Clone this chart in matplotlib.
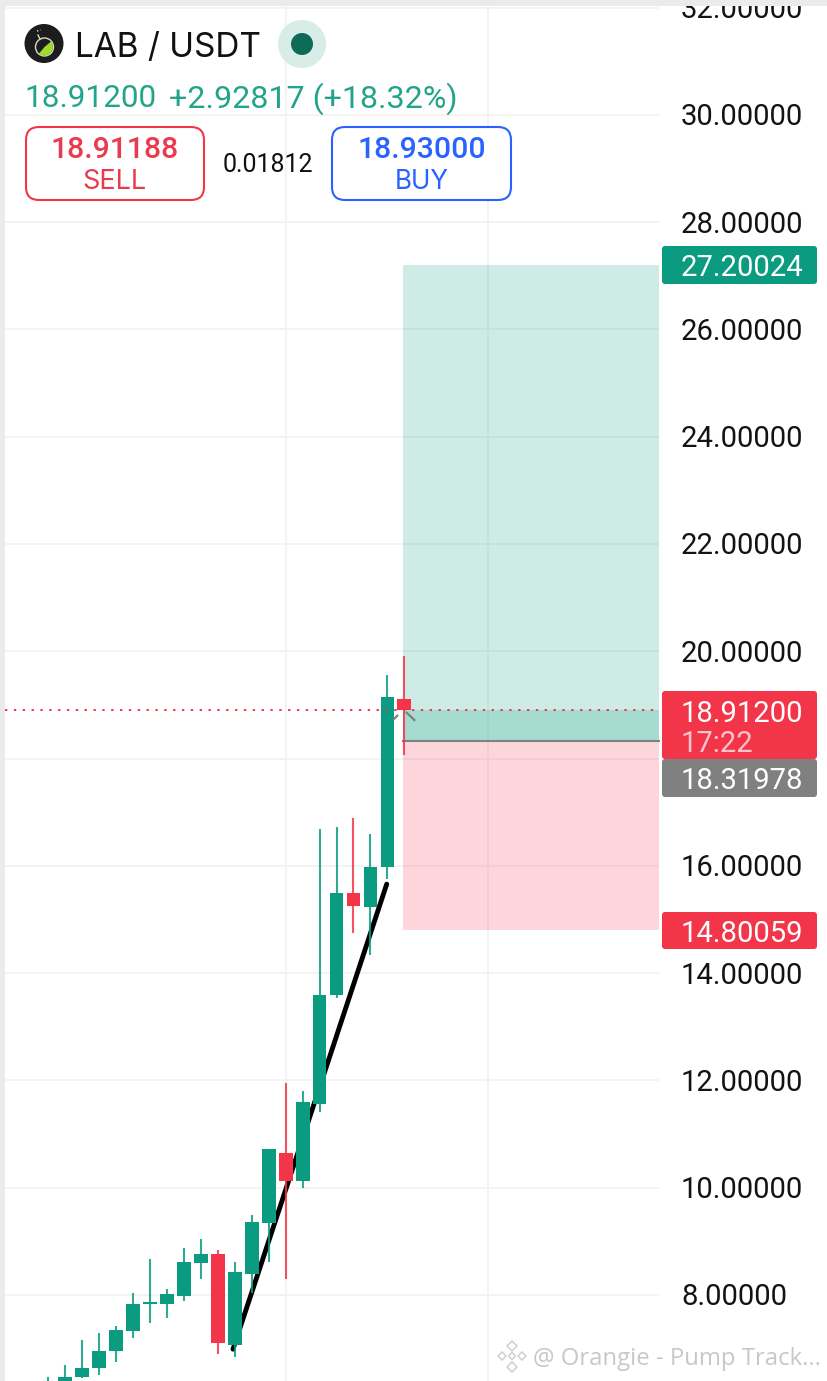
import matplotlib
matplotlib.use('Agg')
import matplotlib.pyplot as plt
from matplotlib.patches import Circle, FancyBboxPatch, Rectangle, Polygon, Wedge

plt.rcParams['font.family'] = ['Roboto', 'DejaVu Sans']

W, H = 828, 1381
GREEN = '#0a9b80'
RED = '#f33549'
GRID = '#f3f3f3'

# candles, oldest first
opens = [6.20, 6.20, 6.48, 6.63, 6.95, 7.33, 7.83, 7.83, 7.98, 8.59, 8.77, 7.07, 8.40, 9.35,
         10.65, 10.13, 11.56, 13.59, 15.49, 15.24, 15.98, 19.12]
closes = [6.35, 6.48, 6.64, 6.96, 7.35, 7.83, 7.87, 8.02, 8.62, 8.77, 7.11, 8.42, 9.37, 10.72,
          10.13, 11.59, 13.59, 15.49, 15.25, 15.98, 19.15, 18.91]
highs = [6.47, 6.70, 7.16, 7.30, 7.42, 8.03, 8.67, 8.11, 8.87, 9.04, 8.84, 8.61, 9.50, 10.73,
         11.96, 11.81, 16.68, 16.72, 16.89, 16.59, 19.55, 19.91]
lows = [6.10, 6.10, 6.45, 6.51, 6.75, 7.20, 7.47, 7.58, 7.89, 8.30, 6.90, 6.85, 8.03, 8.62,
        8.29, 9.99, 11.41, 13.54, 14.74, 14.33, 15.75, 18.07]

# 18.00000 is hidden behind the price tags in the screenshot
grid_prices = [32, 30, 28, 26, 24, 22, 20, 18, 16, 14, 12, 10, 8]
axis_prices = [32, 30, 28, 26, 24, 22, 20, 16, 14, 12, 10, 8]
axis_labels = ['32.00000', '30.00000', '28.00000', '26.00000', '24.00000', '22.00000', '20.00000',
               '16.00000', '14.00000', '12.00000', '10.00000', '8.00000']

last_price = 18.912
take_profit = 27.20024
entry_price = 18.31978
stop_loss = 14.80059
trend_x = [10.89, 19.96]
trend_y = [6.99, 15.66]
grid_bars = [14.02, 25.94]


def price_y(price):
    return 1295 - (price - 8) * 53.64


def rounded(ax, x, y, w, h, r, face, edge='none', lw=0, z=5):
    ax.add_patch(FancyBboxPatch((x + r, y + r), w - 2 * r, h - 2 * r, boxstyle=f'round,pad={r},rounding_size={r}',
                                facecolor=face, edgecolor=edge, linewidth=lw, zorder=z))


fig = plt.figure(figsize=(W / 100, H / 100), dpi=100)

# price axes for the plot area
ax = fig.add_axes([0, 0, 1, 1])
ax.set_xlim(-48.4 / 16.95, (W - 48.4) / 16.95)
ax.set_ylim(8 - (H - 1295) / 53.64, 8 + 1295 / 53.64)
ax.axis('off')

# pixel axes for the chrome around it
ui = fig.add_axes([0, 0, 1, 1], zorder=3)
ui.set_xlim(0, W)
ui.set_ylim(H, 0)
ui.axis('off')
ui.patch.set_alpha(0)

x_left = (5 - 48.4) / 16.95
x_right = (659.5 - 48.4) / 16.95
x_box = (403 - 48.4) / 16.95

for p in grid_prices:
    ax.plot([x_left, x_right], [p, p], color=GRID, lw=1.4, zorder=1, solid_capstyle='butt')
for b in grid_bars:
    ax.axvline(b, color=GRID, lw=1.4, zorder=1)
ax.add_patch(Rectangle((x_box, entry_price), x_right - x_box, take_profit - entry_price,
                       facecolor=GREEN, alpha=0.2, edgecolor='none', zorder=2))
ax.add_patch(Rectangle((x_box, stop_loss), x_right - x_box, entry_price - stop_loss,
                       facecolor=RED, alpha=0.2, edgecolor='none', zorder=2))
ax.add_patch(Rectangle((x_box, entry_price), x_right - x_box, last_price - entry_price,
                       facecolor=GREEN, alpha=0.2, edgecolor='none', zorder=2))
ax.plot([x_box, x_right], [entry_price, entry_price], color='#808080', lw=1.5, zorder=3)

ax.plot(trend_x, trend_y, color='black', lw=3.5, zorder=4, solid_capstyle='round')

for i, (o, c, hi, lo) in enumerate(zip(opens, closes, highs, lows)):
    col = GREEN if c >= o else RED
    ax.plot([i, i], [lo, hi], color=col, lw=1.5, zorder=5, alpha=0.85, solid_capstyle='butt')
    ax.add_patch(Rectangle((i - 0.405, min(o, c)), 0.81, abs(c - o), facecolor=col, edgecolor='none', zorder=6))

ax.plot([x_left, x_right], [last_price, last_price], color=RED, lw=1.4, linestyle=(0, (1.2, 3.35)), zorder=7)

# little crosshair marks next to the last candle
ui.plot([394, 397.3], [719, 715.7], color='#808080', lw=1.6)
ui.plot([406.7, 414.3], [712.7, 720], color='#808080', lw=1.6)

# price scale
for p, label in zip(axis_prices, axis_labels):
    ui.text(681, price_y(p) - 0.6, label, fontsize=21.1, color='#131313', va='center_baseline', ha='left', zorder=6)

rounded(ui, 662, 246, 155, 38, 3, GREEN)
ui.text(681, 265, '27.20024', fontsize=21.1, color='white', va='center_baseline', zorder=6)
rounded(ui, 662, 691, 155, 68, 3, RED)
ui.text(681, 710.5, '18.91200', fontsize=21.1, color='white', va='center_baseline', zorder=6)
ui.text(681, 740.5, '17:22', fontsize=21.1, color='#fbc4ca', va='center_baseline', zorder=6)
rounded(ui, 662, 759, 155, 38, 3, '#808080')
ui.text(681, 778, '18.31978', fontsize=21.1, color='white', va='center_baseline', zorder=6)
rounded(ui, 662, 912, 155, 37, 3, RED)
ui.text(681, 931, '14.80059', fontsize=21.1, color='white', va='center_baseline', zorder=6)

# header
ui.add_patch(Circle((44, 43.5), 19.5, facecolor='#1c1c1c', zorder=6))
ui.add_patch(Circle((44.5, 47), 9, facecolor='none', edgecolor='#d8d8c8', lw=1, zorder=7))
ui.add_patch(Wedge((44.5, 47), 8.4, 320, 130, facecolor='#9fdc2a', edgecolor='none', zorder=7))
ui.plot([40, 38], [39, 35], color='#d8d8c8', lw=1, zorder=7)
ui.plot([37, 41], [31, 30], color='#d8d8c8', lw=1, linestyle=':', zorder=7)
ui.text(75, 44.5, 'LAB / USDT', fontsize=24, family='Inter', color='#111111', va='center_baseline', zorder=6)
ui.add_patch(Circle((302, 44), 24, facecolor='#d8ece8', zorder=6))
ui.add_patch(Circle((302, 44), 11, facecolor='#0d6b57', zorder=7))
ui.text(24, 95, '18.91200', fontsize=22.7, color='#23a48a', va='center_baseline', zorder=6)
ui.text(169, 95, '+2.92817 (+18.32%)', fontsize=23.2, color='#23a48a', va='center_baseline', zorder=6)

rounded(ui, 26, 127, 178, 73, 13, 'white', RED, 1.5)
ui.text(115, 147, '18.91188', fontsize=21.8, color='#ea3a4e', fontweight='medium', ha='center', va='center_baseline', zorder=6)
ui.text(114, 179, 'SELL', fontsize=19.5, family='Inter', color='#ea3a4e', ha='center', va='center_baseline', zorder=6)
ui.text(268, 162, '0.01812', fontsize=18, color='#111111', ha='center', va='center_baseline', zorder=6)
rounded(ui, 332, 127, 179, 73, 13, 'white', '#2962ff', 1.5)
ui.text(422, 147, '18.93000', fontsize=21.8, color='#2962ff', fontweight='medium', ha='center', va='center_baseline', zorder=6)
ui.text(422, 179, 'BUY', fontsize=18.8, family='Inter', color='#2962ff', ha='center', va='center_baseline', zorder=6)

# watermark
for cx, cy, s in [(512, 1346, 5), (502, 1356, 4), (522, 1356, 4), (512, 1367, 5), (512, 1356, 3.5)]:
    ui.add_patch(Polygon([(cx - s, cy), (cx, cy - s), (cx + s, cy), (cx, cy + s)], closed=True,
                         facecolor='none', edgecolor='#d0d0d0', lw=1.1, zorder=6))
ui.text(533, 1356, '@ Orangie - Pump Track...', fontsize=17.2, family='Open Sans', color='#c8c8c8',
        va='center_baseline', zorder=6)

# grey page edge on the left and top
ui.add_patch(Rectangle((0, 0), 5, H, facecolor='#ebebeb', edgecolor='none', zorder=8))
ui.add_patch(Rectangle((0, 0), W, 6, facecolor='#ebebeb', edgecolor='none', zorder=8))

fig.savefig('out.png', dpi=100)
